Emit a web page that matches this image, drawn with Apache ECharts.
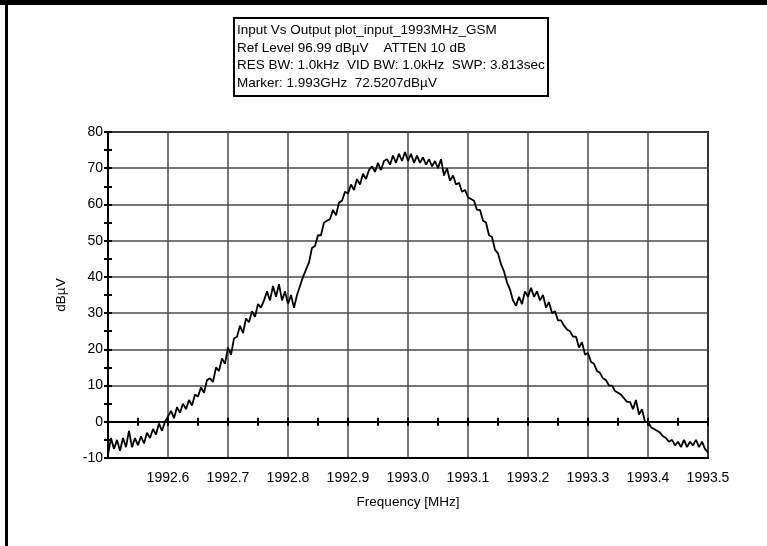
<!DOCTYPE html>
<html>
<head>
<meta charset="utf-8">
<script src="https://cdn.jsdelivr.net/npm/echarts@6/dist/echarts.min.js"></script>
<style>
  html, body { margin: 0; padding: 0; background: #fff; }
  #chart { width: 767px; height: 546px; }
</style>
</head>
<body>
<div id="chart"></div>
<script>
var freqStart = 1992.5;
var freqStep = 0.005;
var levels = [
    -9, -4.5, -7.5, -5, -8, -4.5, -7, -2.5, -7, -4.5,
    -6.5, -4, -6, -3, -4.5, -2, -3.5, -0.5, -2.5, 0,
    1.5, 3, 1, 4, 2.5, 5, 3.5, 6, 4.5, 7.5,
    7, 9.5, 8, 11.5, 12, 11, 15, 14, 17.5, 16,
    20.5, 18.5, 23, 23.5, 26.5, 24.5, 28.5, 27.5, 30.5, 29,
    32.5, 31.5, 33.5, 36, 33.5, 37.5, 34.5, 38, 33.5, 36,
    32.5, 35, 31.5, 35, 37.5, 40, 42, 44, 48, 48.5,
    51.5, 51.5, 55, 55.5, 56, 58.5, 57, 60.5, 61, 63.5,
    63, 65.5, 64, 67, 65.5, 68.5, 67, 69.5, 70.5, 69,
    71.5, 69.5, 72, 72.5, 71, 73.5, 71.5, 74, 72, 74.5,
    72, 74, 71.5, 73.5, 71.5, 73, 71, 72.5, 70.5, 72,
    70, 72.5, 68, 70, 66.5, 68, 65.5, 66, 63.5, 64,
    62, 61.5, 61, 58.5, 58.5, 55.5, 55, 51.5, 51, 47.5,
    46.5, 43.5, 41.5, 38.5, 36.5, 33.5, 32, 34.5, 32.5, 36,
    34.5, 37, 34.5, 36, 33.5, 35, 31.5, 33, 30, 30.5,
    28, 28, 26.5, 25.5, 25, 23.5, 23.5, 20.5, 22, 18.5,
    19, 16.5, 16, 14, 13.5, 12, 11.5, 10, 10, 8.5,
    8, 7.5, 6.5, 5.5, 5.5, 3.5, 6, 2, 3.5, 0,
    0, -1.5, -2, -2.5, -3, -4, -4.5, -5.5, -5, -6.5,
    -5.5, -7, -5, -7, -5.5, -6.5, -5, -7, -5.5, -7.5,
    -8.5
];
var infoLines = [
    'Input Vs Output plot_input_1993MHz_GSM',
    'Ref Level 96.99 dB\u00b5V    ATTEN 10 dB',
    'RES BW: 1.0kHz  VID BW: 1.0kHz  SWP: 3.813sec',
    'Marker: 1.993GHz  72.5207dB\u00b5V'
];

var myChart = echarts.init(document.getElementById('chart'));

var points = [];
levels.forEach(function (v, i) {
    points.push([+(freqStart + i * freqStep).toFixed(3), v]);
});

var font = 'Liberation Sans, Arial, sans-serif';

var option = {
    backgroundColor: '#fff',
    animation: false,
    title: {
        text: infoLines.join('\n'),
        left: 234,
        top: 18,
        padding: [4, 3, 4, 3],
        borderColor: '#000',
        borderWidth: 2,
        textStyle: {fontFamily: font, fontSize: 13.5, fontWeight: 'normal', color: '#000', lineHeight: 17.5}
    },
    graphic: [
        {type: 'rect', shape: {x: 0, y: 0, width: 767, height: 5}, style: {fill: '#000'}},
        {type: 'rect', shape: {x: 5, y: 0, width: 3, height: 546}, style: {fill: '#000'}}
    ],
    grid: {left: 108, top: 132, right: 59, bottom: 88, show: true, borderColor: '#000', borderWidth: 2},
    xAxis: [
        {
            type: 'value', min: 1992.5, max: 1993.5, interval: 0.1,
            name: 'Frequency [MHz]', nameLocation: 'middle', nameGap: 37,
            nameTextStyle: {fontFamily: font, fontSize: 13.5, color: '#000'},
            axisLine: {onZero: false, lineStyle: {color: '#000', width: 2}},
            axisTick: {show: false},
            axisLabel: {
                fontFamily: font, fontSize: 14, color: '#000', margin: 13,
                formatter: function (v) { return v < 1992.55 ? '' : v.toFixed(1); }
            },
            splitLine: {lineStyle: {color: '#4a4a4a', width: 1.5}}
        },
        {
            type: 'value', min: 1992.5, max: 1993.5, interval: 0.05, position: 'bottom',
            axisLine: {onZero: true, lineStyle: {color: '#000', width: 2}},
            axisTick: {show: true, length: 4, lineStyle: {color: '#000', width: 2}},
            axisLabel: {show: false}, splitLine: {show: false}
        },
        {
            type: 'value', min: 1992.5, max: 1993.5, interval: 0.05, position: 'bottom',
            axisLine: {onZero: true, lineStyle: {color: '#000', width: 2}},
            axisTick: {show: true, inside: true, length: 4, lineStyle: {color: '#000', width: 2}},
            axisLabel: {show: false}, splitLine: {show: false}
        }
    ],
    yAxis: [
        {
            type: 'value', min: -10, max: 80, interval: 10,
            name: 'dB\u00b5V', nameLocation: 'middle', nameGap: 40,
            nameTextStyle: {fontFamily: font, fontSize: 13.5, color: '#000'},
            axisLine: {show: true, lineStyle: {color: '#000', width: 2}},
            axisTick: {show: true, length: 4, lineStyle: {color: '#000', width: 2}},
            minorTick: {show: true, splitNumber: 2, length: 4, lineStyle: {color: '#000', width: 2}},
            axisLabel: {fontFamily: font, fontSize: 14, color: '#000', margin: 5},
            splitLine: {lineStyle: {color: '#4a4a4a', width: 1.5}}
        },
        {
            type: 'value', min: -10, max: 80, interval: 5, position: 'left',
            axisLine: {show: false},
            axisTick: {show: true, inside: true, length: 4, lineStyle: {color: '#000', width: 2}},
            axisLabel: {show: false}, splitLine: {show: false}
        }
    ],
    series: [
        {
            type: 'line',
            data: points,
            showSymbol: false,
            lineStyle: {color: '#000', width: 1.8},
            z: 5
        }
    ]
};

myChart.setOption(option);
</script>
</body>
</html>
